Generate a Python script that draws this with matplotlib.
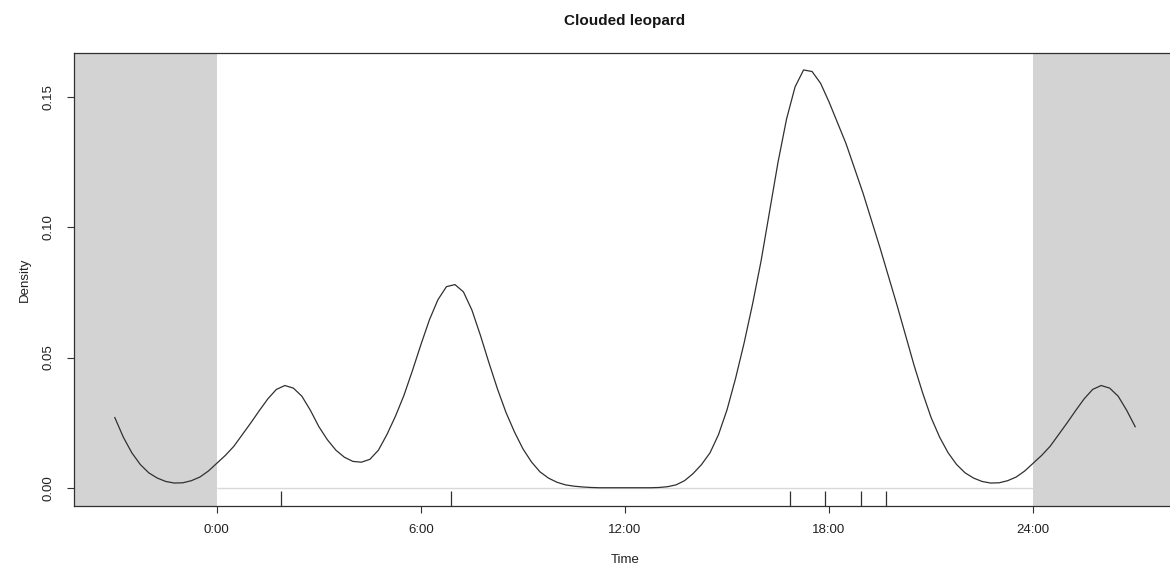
import numpy as np
import matplotlib
matplotlib.use("Agg")
import matplotlib.pyplot as plt
import matplotlib.transforms as mtransforms

plt.rcParams['font.family'] = ['Liberation Sans', 'DejaVu Sans']

# density, one value every quarter hour over one day
hours = [0.00, 0.25, 0.50, 0.75, 1.00, 1.25, 1.50, 1.75, 2.00, 2.25, 2.50, 2.75,
         3.00, 3.25, 3.50, 3.75, 4.00, 4.25, 4.50, 4.75, 5.00, 5.25, 5.50, 5.75,
         6.00, 6.25, 6.50, 6.75, 7.00, 7.25, 7.50, 7.75, 8.00, 8.25, 8.50, 8.75,
         9.00, 9.25, 9.50, 9.75, 10.00, 10.25, 10.50, 10.75, 11.00, 11.25, 11.50, 11.75,
         12.00, 12.25, 12.50, 12.75, 13.00, 13.25, 13.50, 13.75, 14.00, 14.25, 14.50, 14.75,
         15.00, 15.25, 15.50, 15.75, 16.00, 16.25, 16.50, 16.75, 17.00, 17.25, 17.50, 17.75,
         18.00, 18.25, 18.50, 18.75, 19.00, 19.25, 19.50, 19.75, 20.00, 20.25, 20.50, 20.75,
         21.00, 21.25, 21.50, 21.75, 22.00, 22.25, 22.50, 22.75, 23.00, 23.25, 23.50, 23.75]
density = [0.0095, 0.0125, 0.0160, 0.0205, 0.0250, 0.0297, 0.0342, 0.0378, 0.0393, 0.0383, 0.0352, 0.0298,
           0.0235, 0.0185, 0.0145, 0.0118, 0.0102, 0.0099, 0.0110, 0.0145, 0.0205, 0.0275, 0.0355, 0.0450,
           0.0550, 0.0645, 0.0722, 0.0772, 0.0780, 0.0752, 0.0682, 0.0585, 0.0480, 0.0380, 0.0290, 0.0215,
           0.0150, 0.0100, 0.0062, 0.0038, 0.0022, 0.0012, 0.0007, 0.0004, 0.0002, 0.0001, 0.0001, 0.0001,
           0.0001, 0.0001, 0.0001, 0.0001, 0.0002, 0.0005, 0.0012, 0.0028, 0.0055, 0.0090, 0.0135, 0.0205,
           0.0300, 0.0420, 0.0555, 0.0705, 0.0870, 0.1060, 0.1250, 0.1415, 0.1538, 0.1603, 0.1597, 0.1552,
           0.1480, 0.1400, 0.1320, 0.1225, 0.1130, 0.1025, 0.0920, 0.0810, 0.0700, 0.0585, 0.0470, 0.0365,
           0.0270, 0.0195, 0.0135, 0.0090, 0.0058, 0.0038, 0.0025, 0.0019, 0.0020, 0.0028, 0.0042, 0.0065]

# observed times (rug)
obs_times = [1.88, 6.88, 16.85, 17.89, 18.95, 19.66]

tick_pos = [0, 6, 12, 18, 24]
tick_labels = ["0:00", "6:00", "12:00", "18:00", "24:00"]
y_ticks = [0.00, 0.05, 0.10, 0.15]

# the curve is circular: wrap the day so it runs from -3h to 27h
h = np.array(hours)
d = np.array(density)
x_ext = np.concatenate([h[h >= 21] - 24, h, [24.0], h[h <= 3] + 24])
y_ext = np.concatenate([d[h >= 21], d, [d[0]], d[h <= 3]])

W, H = 1170, 574
fig = plt.figure(figsize=(W / 100, H / 100), dpi=100)
ax_left, ax_bottom, ax_right, ax_top = 74, 506, 1176, 53
ax = fig.add_axes([ax_left / W, 1 - ax_bottom / H, (ax_right - ax_left) / W, (ax_bottom - ax_top) / H])

xlim = (-4.2, 28.2)
ylim = (-0.0069, 0.1668)
ax.set_xlim(*xlim)
ax.set_ylim(*ylim)

# night shading outside 0-24
shade = '#d3d3d3'
ax.axvspan(xlim[0], 0, color=shade, lw=0, zorder=0)
ax.axvspan(24, xlim[1], color=shade, lw=0, zorder=0)
ax.hlines(0, 0, 24, color='#d9d9d9', lw=1.0, zorder=1)

ax.plot(x_ext, y_ext, color='#303030', lw=0.9, zorder=3)

# rug along the bottom
trans = mtransforms.blended_transform_factory(ax.transData, ax.transAxes)
ax.vlines(obs_times, 0, 0.033, transform=trans, color='#303030', lw=0.9, zorder=3)

ax.set_xticks(tick_pos)
ax.set_xticklabels(tick_labels)
ax.set_yticks(y_ticks)
ax.set_yticklabels(["%.2f" % v for v in y_ticks], rotation=90, va='center')
ax.tick_params(axis='both', direction='out', length=5, width=0.8, color='#303030',
               labelsize=9.5, labelcolor='#202020')
ax.tick_params(axis='x', pad=8)
ax.tick_params(axis='y', pad=9)

for s in ax.spines.values():
    s.set_color('#303030')
    s.set_linewidth(0.9)

cx = ((ax_left + ax_right) / 2) / W
fig.text(cx, 1 - 21 / H, "Clouded leopard", ha='center', va='center',
         fontsize=11, fontweight='bold', color='#151515')
fig.text(cx, 1 - 560 / H, "Time", ha='center', va='center', fontsize=9.5, color='#202020')
fig.text(25 / W, 1 - 280 / H, "Density", ha='center', va='center', rotation=90,
         fontsize=9.5, color='#202020')

fig.savefig("out.png", dpi=100)
